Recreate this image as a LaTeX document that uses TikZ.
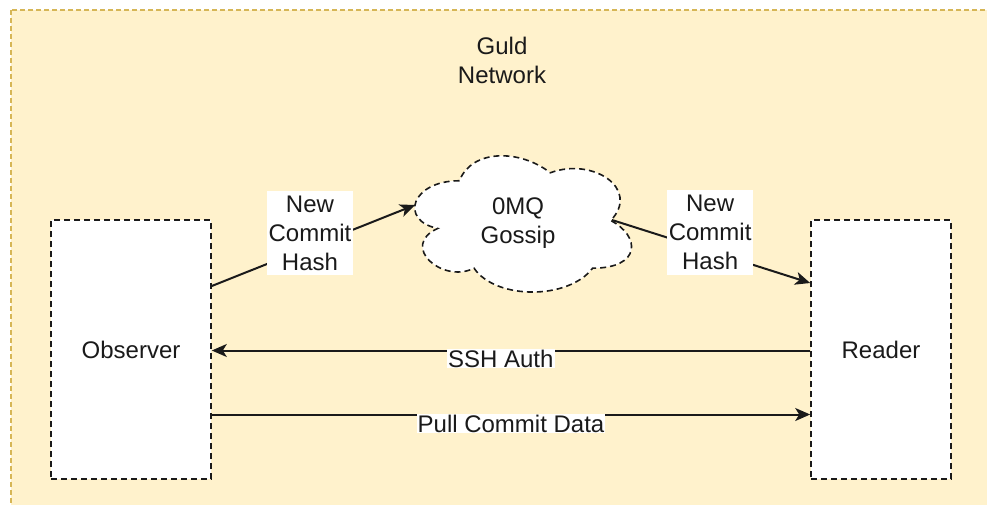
\documentclass[tikz,border=0pt]{standalone}
\usepackage{fontspec}
\setmainfont{Liberation Sans}
\usetikzlibrary{arrows.meta}
\definecolor{contfill}{HTML}{FFF2CC}
\definecolor{contline}{HTML}{D6B656}
\definecolor{ink}{HTML}{1A1A1A}
\tikzset{
  txt/.style={font=\fontsize{24}{29}\selectfont, text=ink, align=center},
  box/.style={draw=ink, fill=white, line width=1.6pt, dash pattern=on 6pt off 4pt, inner sep=0pt},
  cloudsty/.style={draw=ink, fill=white, line width=1.6pt, dash pattern=on 6pt off 4pt},
  arr/.style={draw=ink, line width=2pt, -{Stealth[length=15pt,width=13pt,inset=4pt]}},
  lbl/.style={txt, fill=white, inner xsep=2pt, inner ysep=5pt},
}
\begin{document}
\begin{tikzpicture}[x=1pt,y=-1pt]
\useasboundingbox (0,0) rectangle (987,505);
\clip (0,0) rectangle (987,505);
% outer container
\draw[fill=contfill, draw=contline, line width=1.3pt, dash pattern=on 5pt off 3pt] (11,10) rectangle (1010,530);
\node[txt] (title) at (502,60) {Guld\\Network};

% cloud
\begin{scope}[shift={(399,141)}, x=242pt, y=-159pt]
\draw[cloudsty] (0.25,0.25) .. controls (0.05,0.25) and (0,0.5) .. (0.16,0.55)
  .. controls (0,0.66) and (0.18,0.9) .. (0.31,0.8)
  .. controls (0.4,1) and (0.7,1) .. (0.8,0.8)
  .. controls (1,0.8) and (1,0.6) .. (0.875,0.5)
  .. controls (1,0.3) and (0.8,0.1) .. (0.625,0.2)
  .. controls (0.5,0.05) and (0.3,0.05) .. (0.25,0.25) -- cycle;
\end{scope}
\node[txt] (gossip) at (518,223) {0MQ\\Gossip};

% boxes
\node[box, txt, minimum width=160pt, minimum height=259pt] (obs) at (131,349.5) {Observer};
\node[box, txt, minimum width=140pt, minimum height=259pt] (reader) at (881,349.5) {Reader};

% connectors
\draw[arr] ([yshift=63.5pt]obs.east) -- ([shift={(-103,-18)}]gossip.center)
  node[lbl, pos=0.483, yshift=14pt] {New\\Commit\\Hash};
\draw[arr] ([shift={(94,-3)}]gossip.center) -- ([yshift=66.5pt]reader.west)
  node[lbl, pos=0.495, yshift=19pt] {New\\Commit\\Hash};
\draw[arr] ([yshift=-1pt]reader.west) -- ([yshift=-1pt]obs.east)
  node[txt, fill=white, inner sep=1pt, pos=0.517, yshift=-8pt] {SSH Auth};
\draw[arr] ([yshift=-65pt]obs.east) -- ([yshift=-65pt]reader.west)
  node[txt, fill=white, inner sep=1pt, pos=0.5, yshift=-9pt] {Pull Commit Data};
\end{tikzpicture}
\end{document}
